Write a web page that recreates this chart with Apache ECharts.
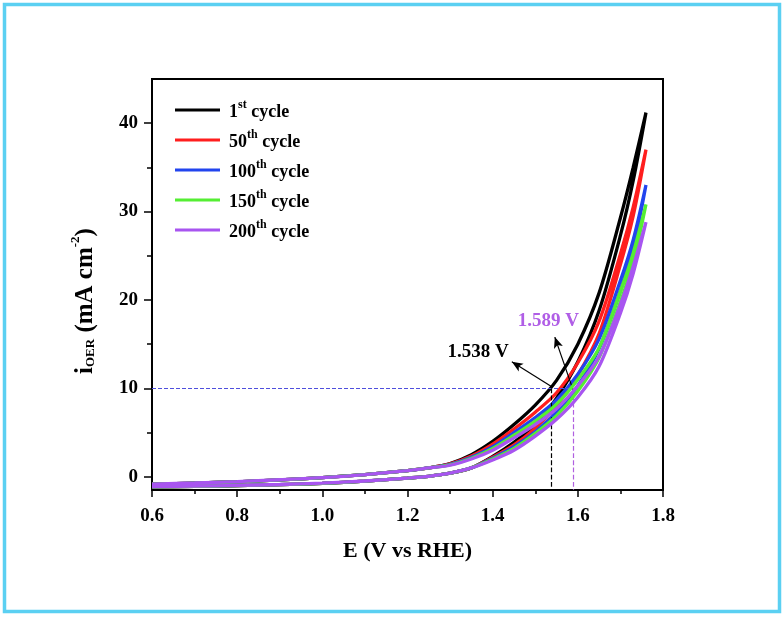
<!DOCTYPE html>
<html>
<head>
<meta charset="utf-8">
<script src="https://cdn.jsdelivr.net/npm/echarts@6/dist/echarts.min.js"></script>
<style>html,body{margin:0;padding:0;background:#fff}#c{width:784px;height:617px}</style>
</head>
<body>
<div id="c"></div>
<script>
// ---- data ----
const potential = [0.6,0.7,0.8,0.9,1.0,1.1,1.2,1.25,1.3,1.35,1.4,1.45,1.5,1.55,1.6,1.65,1.7,1.73,1.76];
// anodic (upper) branch currents, mA cm^-2
const cycle1Up   = [-0.85,-0.72,-0.57,-0.35,-0.1,0.25,0.7,1.0,1.5,2.5,4.0,5.9,8.1,10.9,15.0,20.8,29.3,35.0,41.2];
const cycle50Up  = [-0.85,-0.72,-0.57,-0.35,-0.1,0.25,0.7,1.0,1.45,2.35,3.7,5.4,7.3,9.5,12.9,17.6,25.2,30.5,37.0];
const cycle100Up = [-0.85,-0.72,-0.57,-0.35,-0.1,0.25,0.7,1.0,1.4,2.2,3.4,5.0,6.7,8.7,11.6,15.6,22.2,26.8,33.0];
const cycle150Up = [-0.85,-0.72,-0.57,-0.35,-0.1,0.25,0.7,1.0,1.35,2.1,3.2,4.7,6.3,8.2,11.0,14.6,21.0,25.3,30.8];
const cycle200Up = [-0.83,-0.7,-0.55,-0.34,-0.1,0.25,0.7,1.0,1.3,2.0,3.0,4.4,5.9,7.7,10.3,13.6,19.5,23.8,28.8];
// reverse (lower) branch currents, same potentials
const cycle1Down   = [-1.15,-1.1,-1.0,-0.9,-0.75,-0.5,-0.15,0.05,0.4,1.0,2.3,3.9,5.9,8.9,13.0,18.8,27.3,33.5,41.2];
const cycle50Down  = [-1.15,-1.1,-1.0,-0.9,-0.75,-0.5,-0.15,0.05,0.4,1.0,2.2,3.6,5.5,8.0,11.5,16.2,24.0,29.5,37.0];
const cycle100Down = [-1.15,-1.1,-1.0,-0.9,-0.75,-0.5,-0.15,0.05,0.4,1.0,2.1,3.4,5.1,7.3,10.3,14.5,21.0,25.8,33.0];
const cycle150Down = [-1.15,-1.1,-1.0,-0.9,-0.75,-0.5,-0.15,0.05,0.4,1.0,2.0,3.2,4.9,6.9,9.7,13.5,19.8,24.3,30.8];
const cycle200Down = [-1.12,-1.07,-0.98,-0.88,-0.73,-0.48,-0.15,0.05,0.4,1.0,1.9,3.0,4.6,6.5,9.0,12.5,18.5,23.0,28.8];

const cycleNumbers = ['1','50','100','150','200'];
const cycleSuffixes = ['st','th','th','th','th'];
const cycleNames = ['1st cycle','50th cycle','100th cycle','150th cycle','200th cycle'];

const xTickLabels = [0.6,0.8,1.0,1.2,1.4,1.6,1.8];
const xMinorTicks = [0.7,0.9,1.1,1.3,1.5,1.7];
const yTickLabels = [0,10,20,30,40];
const yMinorTicks = [5,15,25,35];

const targetCurrent = 10;          // mA cm^-2
const onsetPotentials = [1.538, 1.589];
const onsetLabels = ['1.538 V', '1.589 V'];
// annotation anchors (data units)
const arrowStarts = [[1.537,10.25],[1.589,9.8]];
const arrowEnds   = [[1.445,13.0],[1.546,15.8]];
const labelAnchors = [[1.366,14.1],[1.531,17.6]];

// ---- styling ----
const FONT = "'Liberation Serif','Times New Roman',serif";
const colors = ['#000000','#ff1e1e','#2244ee','#55ee33','#a855f0'];
const ups = [cycle1Up,cycle50Up,cycle100Up,cycle150Up,cycle200Up];
const downs = [cycle1Down,cycle50Down,cycle100Down,cycle150Down,cycle200Down];

function loop(up, down){
  const pts = [];
  for (let i=0;i<potential.length;i++) pts.push([potential[i], up[i]]);
  for (let i=potential.length-2;i>=0;i--) pts.push([potential[i], down[i]]);
  return pts;
}

const xMin = 0.6, xMax = 1.8, yMin = -1.5, yMax = 45;

const annotation = {
  type: 'scatter', data: [], silent: true, z: 1,
  xAxisIndex: 0, yAxisIndex: 0,
  markLine: {
    silent: true, symbol: ['none','none'], animation: false,
    label: {show: false},
    lineStyle: {type: 'dashed', width: 1, color: '#4f4fdd'},
    data: [
      [{coord:[xMin, targetCurrent], lineStyle:{type:'dashed',width:1,color:'#4f4fdd'}},
       {coord:[onsetPotentials[1], targetCurrent], lineStyle:{type:'dashed',width:1,color:'#4f4fdd'}}],
      [{coord:[onsetPotentials[0], targetCurrent], lineStyle:{type:'dashed',width:1.2,color:'#000'}},
       {coord:[onsetPotentials[0], yMin], lineStyle:{type:'dashed',width:1.2,color:'#000'}}],
      [{coord:[onsetPotentials[1], targetCurrent], lineStyle:{type:'dashed',width:1.2,color:'#b060e0'}},
       {coord:[onsetPotentials[1], yMin], lineStyle:{type:'dashed',width:1.2,color:'#b060e0'}}],
      [{coord:arrowStarts[0], symbol:'none', lineStyle:{type:'solid',width:1.2,color:'#000'}},
       {coord:arrowEnds[0], symbol:'arrow', symbolSize:[7,11], lineStyle:{type:'solid',width:1.2,color:'#000'}}],
      [{coord:arrowStarts[1], symbol:'none', lineStyle:{type:'solid',width:1.2,color:'#000'}},
       {coord:arrowEnds[1], symbol:'arrow', symbolSize:[7,11], lineStyle:{type:'solid',width:1.2,color:'#000'}}]
    ]
  },
  markPoint: {
    silent: true, symbol: 'circle', symbolSize: 0, animation: false,
    label: {show: true, position: 'inside', fontFamily: FONT, fontWeight: 'bold', fontSize: 19},
    data: [
      {coord: labelAnchors[0], value: onsetLabels[0], label:{formatter: onsetLabels[0], color:'#000'}},
      {coord: labelAnchors[1], value: onsetLabels[1], label:{formatter: onsetLabels[1], color:'#b05ee6'}}
    ]
  }
};

const cycleSeries = cycleNames.map((name, i) => ({
  name, type: 'line', data: loop(ups[i], downs[i]),
  xAxisIndex: 0, yAxisIndex: 0,
  smooth: 0.3, symbol: 'none', showSymbol: false,
  lineStyle: {width: 3.3, color: colors[i]}, itemStyle: {color: colors[i]},
  z: 2 + i, animation: false
}));

const axisLabelStyle = {fontFamily: FONT, fontWeight: 'bold', fontSize: 19, color: '#000'};

const option = {
  animation: false,
  backgroundColor: '#fff',
  grid: {left: 152, right: 121, top: 79, bottom: 127, show: true, borderColor: '#000', borderWidth: 2, outerBoundsMode: 'none', containLabel: false},
  legend: {
    data: cycleNames, orient: 'vertical', left: 175, top: 99, padding: 0,
    itemWidth: 45, itemHeight: 3, itemGap: 8, icon: 'rect', selectedMode: false,
    formatter: function(name){
      const i = cycleNames.indexOf(name);
      return '{f|' + cycleNumbers[i] + '}{s|' + cycleSuffixes[i] + '}{n| cycle}';
    },
    textStyle: {
      fontFamily: FONT, fontWeight: 'bold', fontSize: 18, color: '#000',
      rich: {
        f: {fontFamily: FONT, fontWeight: 'bold', fontSize: 18, lineHeight: 22, padding: [4,0,0,4], color:'#000'},
        n: {fontFamily: FONT, fontWeight: 'bold', fontSize: 18, lineHeight: 22, padding: [4,0,0,0], color:'#000'},
        s: {fontFamily: FONT, fontWeight: 'bold', fontSize: 12, lineHeight: 12, verticalAlign: 'top', color:'#000'}
      }
    }
  },
  xAxis: [{
    type: 'value', min: xMin, max: xMax, position: 'bottom',
    name: 'E (V vs RHE)', nameLocation: 'middle', nameGap: 50,
    nameTextStyle: {fontFamily: FONT, fontWeight: 'bold', fontSize: 22, color: '#000'},
    axisLine: {show: true, onZero: false, lineStyle: {color: '#000', width: 2}},
    axisTick: {show: true, length: 7, lineStyle: {width: 1.5, color:'#000'}, customValues: xTickLabels},
    axisLabel: Object.assign({margin: 17, customValues: xTickLabels, formatter: v => Number(v).toFixed(1)}, axisLabelStyle),
    splitLine: {show: false}
  }, {
    type: 'value', min: xMin, max: xMax, position: 'bottom',
    axisLine: {show: false, onZero: false},
    axisTick: {show: true, length: 4, lineStyle: {width: 1.5, color:'#000'}, customValues: xMinorTicks},
    axisLabel: {show: false},
    splitLine: {show: false}
  }],
  yAxis: [{
    type: 'value', min: yMin, max: yMax, position: 'left',
    axisLine: {show: true, onZero: false, lineStyle: {color: '#000', width: 2}},
    axisTick: {show: true, length: 8, lineStyle: {width: 1.5, color:'#000'}, customValues: yTickLabels},
    axisLabel: Object.assign({margin: 14, customValues: yTickLabels}, axisLabelStyle),
    splitLine: {show: false}
  }, {
    type: 'value', min: yMin, max: yMax, position: 'left',
    axisLine: {show: false, onZero: false},
    axisTick: {show: true, length: 5, lineStyle: {width: 1.5, color:'#000'}, customValues: yMinorTicks},
    axisLabel: {show: false},
    splitLine: {show: false}
  }],
  graphic: [
    {type: 'rect', silent: true, z: 100,
     shape: {x: 4.5, y: 4.5, width: 775, height: 607},
     style: {fill: 'none', stroke: '#5bd0f2', lineWidth: 3.5}},
    {type: 'text', silent: true, x: 83, y: 301, rotation: Math.PI / 2,
     style: {
       text: '{m|i}{sub|OER}{m| (mA cm}{sup|-2}{m|)}',
       align: 'center', verticalAlign: 'middle',
       textAlign: 'center', textVerticalAlign: 'middle',
       fill: '#000',
       font: "bold 25px " + FONT,
       rich: {
         m: {fontFamily: FONT, fontWeight: 'bold', fontSize: 25, lineHeight: 28, padding: [6,0,0,0], fill:'#000', color:'#000'},
         sub: {fontFamily: FONT, fontWeight: 'bold', fontSize: 13, lineHeight: 13, verticalAlign: 'bottom', fill:'#000', color:'#000'},
         sup: {fontFamily: FONT, fontWeight: 'bold', fontSize: 13, lineHeight: 13, verticalAlign: 'top', fill:'#000', color:'#000'}
       }
     }}
  ],
  series: [annotation].concat(cycleSeries)
};

const chart = echarts.init(document.getElementById('c'), null, {renderer: 'canvas'});
chart.setOption(option);
</script>
</body>
</html>
